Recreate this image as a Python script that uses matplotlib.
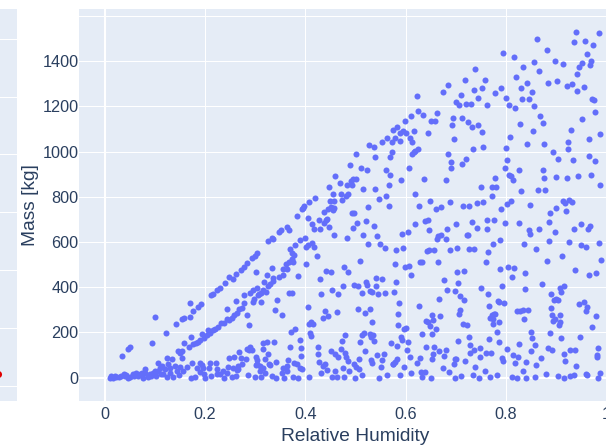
import matplotlib
matplotlib.use("Agg")
import matplotlib.pyplot as plt

# upper diagonal branch, low humidity
upper_rh = [.212,.216,.224,.230,.240,.248,.256,.261,.271,.278,.284,.293,.299,.303,.326,.333,.336,.348,.351,.363,.368,.170,.176,.185,.192,.170,.153,.158,.142,.122,.100,.095,.050,.047,.034,.383,.3925]
upper_mass = [364,372,388,395,419,445,435,457,478,490,506,527,537,553,605,617,612,646,653,667,655,330,295,313,325,268,258,263,237,199,268,153,136,128,94,715,748]

# middle diagonal branch
middle_rh = [.158,.168,.172,.176,.181,.185,.190,.193,.198,.205,.203,.210,.216,.220,.226,.231,.237,.243,.248,.253,.258,.263,.268,.273,.278,.243,.261,.277,.284,.288,.289,.295,.303,.307,.295,.298,.311,.305,.311,.316,.321,.317,.324,.326,.330,.333,.336,.336,.301,.348,.355,.356,.361,.363,.368,.373,.376,.367,.343,.340,.354,.386,.370,.374,.377,.380,.390,.373]
middle_mass = [152,136,180,147,155,159,165,192,177,212,189,199,209,217,226,243,243,258,254,266,276,288,302,310,330,302,339,364,276,233,373,389,398,372,335,347,333,367,376,386,378,425,454,406,416,484,442,428,466,447,482,454,504,479,513,524,512,373,342,301,277,451,568,553,543,587,608,376]

# bottom band below humidity 0.4
low_rh = [.372,.380,.389,.392,.370,.338,.324,.316,.315,.326,.289,.288,.283,.293,.267,.257,.247,.271,.281,.302,.303,.303,.301,.309,.319,.328,.342,.366,.377,.384,.392,.389,.394,.363,.356,.364,.354,.329,.316,.309,.319,.312,.299,.286,.333,.341,.358,.376,.386,.273,.266,.263,.256,.246,.236,.237,.223,.221,.209,.208,.211,.200,.190,.193,.196,.190,.198,.183,.173,.163,.156,.148,.136,.171,.180,.223,.230,.243,.253,.262,.266]
low_mass = [204,215,165,133,134,156,156,152,125,106,137,121,125,121,115,93,86,86,81,93,78,59,56,52,81,62,71,77,66,59,96,44,37,52,44,30,21,56,44,30,22,3,3,12,7,0,0,4,0,59,52,32,44,47,30,0,40,66,66,44,7,0,66,56,41,27,15,44,63,47,30,12,3,0,3,18,15,22,3,7,37]

# start of the curve, humidity below 0.16
start_rh = [.124,.134,.106,.110,.115,.120,.126,.130,.140,.150,.153,.150,.146,.153,.143,.131,.124,.116,.106,.103,.096,.090,.086,.080,.081,.077,.070,.063,.057,.059,.051,.047,.041,.033,.029,.023,.017,.010,.012,.020,.038,.043,.067,.075,.093,.100,.112]
start_mass = [86,81,65,44,52,37,59,44,52,47,88,111,118,118,30,22,3,15,30,7,22,15,3,37,22,0,15,22,15,7,3,0,7,7,3,3,0,0,7,6,15,10,7,22,7,30,18]

# humidity above 0.4, mass near 0
band0_rh = [.408,.454,.463,.478,.499,.512,.547,.563,.588,.611,.633,.650,.698,.711,.735,.747,.769,.782,.813,.823,.841,.859,.880,.903,.916,.928,.936,.959,.962,.983,.987,.432,.443,.459,.475,.488,.507,.551,.575,.597,.630,.639,.674,.686,.696,.700,.719,.739,.759,.834,.861,.940]
band0_mass = [3,3,1,4,0,13,0,12,12,19,4,0,0,7,13,0,4,12,4,0,0,4,16,6,0,7,10,15,10,0,19,21,34,31,43,28,38,47,59,46,25,27,44,25,62,83,74,47,28,31,55,50]

# humidity above 0.4, mass near 100
band1_rh = [.428,.435,.440,.426,.425,.451,.460,.466,.471,.480,.481,.486,.497,.501,.506,.519,.531,.533,.543,.553,.557,.575,.578,.582,.602,.608,.622,.628,.641,.652,.655,.656,.667,.676,.680,.698,.728,.729,.737,.748,.749,.760,.770,.787,.793,.794,.803,.815,.818,.824,.826,.841,.850,.859,.870,.883,.892,.915,.918,.927,.938,.981,.984,.982]
band1_mass = [71,52,62,103,137,118,103,93,125,111,91,74,59,47,81,117,78,63,99,78,106,62,71,84,121,93,65,87,136,81,103,136,118,96,121,81,109,143,122,131,91,111,108,156,88,74,127,102,65,91,147,69,119,146,88,133,121,103,74,124,124,99,131,93]

# humidity above 0.4, mass near 200
band2_rh = [.473,.479,.509,.513,.516,.528,.531,.536,.535,.571,.583,.591,.593,.604,.632,.653,.660,.704,.727,.766,.783,.851,.853,.888,.910,.947,.972]
band2_mass = [162,189,158,187,199,192,180,161,189,152,139,181,167,159,193,193,214,161,178,173,204,201,174,198,174,178,223]

# humidity above 0.4, mass near 300
band3_rh = [.408,.412,.416,.410,.412,.436,.439,.446,.464,.504,.518,.528,.533,.585,.585,.596,.600,.626,.640,.644,.648,.652,.655,.668,.706,.709,.714,.722,.767,.769,.773,.775,.777,.779,.775,.787,.823,.829,.834,.844,.837,.889,.892,.894,.898,.908,.908,.906,.946,.955,.962,.959,.979]
band3_mass = [239,248,237,199,184,264,294,274,289,304,285,304,248,283,232,217,220,316,252,246,229,277,255,273,283,301,236,235,316,266,279,260,280,280,239,246,296,295,298,299,260,307,279,251,258,276,248,232,325,336,314,294,273]

# humidity above 0.4, mass near 400
band4_rh = [.430,.432,.453,.465,.476,.498,.505,.513,.521,.523,.529,.533,.541,.541,.544,.553,.559,.577,.581,.587,.666,.676,.682,.699,.705,.708,.716,.751,.765,.792,.784,.787,.796,.839,.872,.890,.895,.900,.904,.907,.910,.916,.405]
band4_mass = [437,370,388,369,406,412,407,376,422,409,385,379,441,404,370,435,373,381,422,332,350,431,389,385,420,360,342,398,370,407,338,336,329,392,414,370,342,350,342,398,381,407,311]

# humidity above 0.4, mass near 500
band5_rh = [.441,.452,.477,.486,.509,.578,.599,.606,.610,.628,.632,.665,.702,.717,.761,.789,.805,.813,.816,.839,.882,.912,.938,.965,.980,.990,.401,.424]
band5_mass = [473,466,490,466,515,504,490,496,453,512,512,510,466,473,510,481,491,445,484,465,518,537,478,454,462,519,503,537]

# humidity above 0.4, mass near 600
band6_rh = [.402,.405,.413,.417,.400,.457,.483,.515,.525,.543,.548,.558,.580,.593,.594,.605,.642,.646,.657,.662,.665,.670,.680,.688,.703,.722,.725,.726,.737,.765,.775,.789,.837,.861,.886,.926,.949,.960,.985]
band6_mass = [578,587,594,578,617,630,617,631,593,625,591,575,565,634,575,645,560,566,565,614,625,633,614,566,572,631,630,571,568,556,591,609,590,571,606,599,586,578,596]

# humidity above 0.4, mass near 660
band7_rh = [.418,.430,.447,.496,.537,.646,.683,.742,.762,.846,.849,.866,.897,.935,.964,.968]
band7_mass = [656,656,667,664,671,653,656,664,656,655,634,658,646,659,659,671]

# upper envelope, humidity above 0.6
high_rh = [.622,.625,.634,.663,.650,.658,.674,.685,.718,.739,.758,.752,.736,.710,.700,.707,.721,.730,.745,.763,.779,.791,.795,.817,.835,.820,.830,.842,.852,.833,.847,.801,.807,.819,.857,.862,.881,.857,.867,.897,.914,.884,.902,.922,.931,.942,.956,.942,.946,.951,.968,.970,.961,.940,.936,.957,.973,.986,.972,.976,.977,.952,.868,.874,.829,.855,.809,.843,.876,.800,.755,.734,.930,.924,.924,.966,.988]
high_mass = [1246,1180,1162,1170,1134,1136,1261,1295,1314,1363,1314,1279,1274,1248,1220,1205,1210,1211,1238,1204,1258,1280,1437,1420,1375,1328,1280,1301,1261,1232,1232,1236,1205,1193,1202,1497,1447,1395,1358,1401,1389,1302,1313,1289,1299,1267,1283,1341,1373,1391,1382,1400,1429,1530,1482,1487,1471,1522,1233,1227,1174,1143,1156,1127,1122,1092,1063,1035,1035,1016,1022,1013,1094,1041,1010,1055,1078]

# humidity above 0.75, mass 700 to 1000
mid_right_rh = [.894,.904,.933,.966,.978,.803,.798,.827,.873,.876,.900,.922,.944,.969,.988,.806,.810,.815,.865,.878,.831,.778,.750,.772,.781,.773,.810,.802,.791,.848,.913,.918,.926,.932,.900,.887,.920,.885,.950]
mid_right_mass = [1000,969,963,981,959,962,928,917,917,884,888,885,892,897,854,894,892,872,832,832,826,881,844,842,841,805,783,770,746,764,780,774,786,777,749,729,739,689,681]

# humidity 0.6 to 0.8, mass 680 to 1150
mid_center_rh = [.695,.692,.713,.724,.733,.745,.753,.696,.684,.691,.690,.712,.720,.681,.637,.606,.591,.618,.648,.626,.689,.661,.671,.714,.726,.743,.754,.638,.644,.619,.701,.732,.763,.777,.799,.827]
mid_center_mass = [1149,1117,1146,1130,1109,1115,1087,1055,987,953,929,944,969,875,879,925,875,813,782,760,776,746,755,758,760,771,777,693,699,681,680,687,696,696,683,686]

# humidity 0.4 to 0.62, mass 680 to 1160
mid_left_rh = [.598,.610,.616,.644,.608,.613,.624,.618,.616,.612,.600,.595,.588,.589,.583,.574,.563,.579,.573,.552,.526,.537,.573,.569,.539,.501,.490,.511,.523,.561,.569,.567,.560,.547,.539,.515,.525,.567,.460,.448,.469,.484,.491,.495,.501,.493,.471,.456,.486,.481,.474,.450,.457,.408,.419,.398,.395,.437,.445,.452,.458,.455,.493,.497,.442,.503,.520,.405,.414,.427,.438,.444]
mid_left_mass = [1136,1158,1089,1083,1059,1040,1012,1003,997,988,1084,1090,1084,1046,1109,1094,1061,1059,1044,1040,1027,1019,997,975,976,988,940,926,920,917,898,850,805,792,833,833,755,758,891,845,861,851,869,878,878,851,814,811,813,804,785,782,782,777,795,758,752,732,748,755,752,743,726,729,696,683,693,704,679,696,684,702]

series_rh = [upper_rh, middle_rh, low_rh, start_rh, band0_rh, band1_rh, band2_rh, band3_rh,
             band4_rh, band5_rh, band6_rh, band7_rh, high_rh, mid_right_rh, mid_center_rh, mid_left_rh]
series_mass = [upper_mass, middle_mass, low_mass, start_mass, band0_mass, band1_mass, band2_mass, band3_mass,
               band4_mass, band5_mass, band6_mass, band7_mass, high_mass, mid_right_mass, mid_center_mass, mid_left_mass]

x_ticks = [0, 0.2, 0.4, 0.6, 0.8, 1]
x_tick_labels = ["0", "0.2", "0.4", "0.6", "0.8", "1"]
y_ticks = [0, 200, 400, 600, 800, 1000, 1200, 1400, 1600]
y_tick_labels = ["0", "200", "400", "600", "800", "1000", "1200", "1400", ""]

side_ticks = [0, 1, 2, 3, 4, 5, 6]
side_point_x = [-0.12]
side_point_y = [0.195]

W, H = 606, 447
INK = "#2a3f5f"
PANEL = "#E5ECF6"
plt.rcParams["font.family"] = ["Liberation Sans", "DejaVu Sans"]

fig = plt.figure(figsize=(W / 100, H / 100), dpi=100)

def frame(left, right, top, bottom):
    return fig.add_axes([left / W, 1 - bottom / H, (right - left) / W, (bottom - top) / H])

# cropped neighbouring panel
side = frame(0, 17, 9, 401)
side.set_facecolor(PANEL)
side.set_xlim(0, 1)
side.set_ylim(-0.268, 6.515)
side.set_xticks([])
side.set_yticks(side_ticks)
side.tick_params(length=0, labelleft=False)
side.grid(axis="y", color="white", linewidth=0.75)
side.set_axisbelow(True)
for s in side.spines.values():
    s.set_visible(False)
side.scatter(side_point_x, side_point_y, s=26, color="#e00000", linewidths=0, clip_on=False, zorder=3)

# main panel runs past the right edge of the picture
ax = frame(79, 632, 9, 401)
ax.set_facecolor(PANEL)
ax.set_xlim(-0.0515, 1.0515)
ax.set_ylim(-103, 1630)
for s in ax.spines.values():
    s.set_visible(False)
ax.set_xticks(x_ticks)
ax.set_xticklabels(x_tick_labels)
ax.set_yticks(y_ticks)
ax.set_yticklabels(y_tick_labels)
ax.tick_params(length=0, labelsize=11.7, labelcolor=INK, pad=0.3)
ax.tick_params(axis="x", pad=4)
ax.grid(True, color="white", linewidth=0.75)
ax.set_axisbelow(True)
ax.axhline(0, color="white", linewidth=1.5, zorder=1)
ax.axvline(0, color="white", linewidth=1.5, zorder=1)
for rh, mass in zip(series_rh, series_mass):
    ax.scatter(rh, mass, s=19, color="#636EFA", linewidths=0, zorder=3)
ax.set_xlabel("Relative Humidity", fontsize=13.8, color=INK, labelpad=4.5)
ax.set_ylabel("Mass [kg]", fontsize=13.8, color=INK)
ax.yaxis.set_label_coords((39 - 79) / 553, 0.5)

fig.savefig("out.png", dpi=100)
